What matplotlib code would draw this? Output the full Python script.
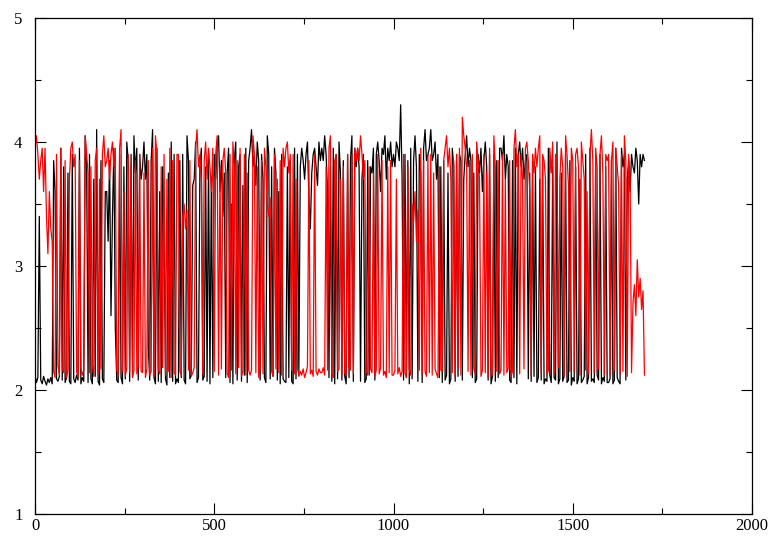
import matplotlib
matplotlib.use("Agg")
import numpy as np
import matplotlib.pyplot as plt
from matplotlib.ticker import MultipleLocator

# frame step between stored samples
step = 4

black_vals = [
    2.12, 2.06, 2.10, 3.40, 2.08, 2.05, 2.11, 2.07, 2.04, 2.09, 2.06, 2.10, 2.05, 3.85, 3.60, 2.09, 2.07, 2.11, 3.95, 2.08, 3.80, 2.06, 2.10, 3.75, 2.07,
    2.05, 3.90, 2.09, 2.06, 2.12, 2.08, 3.95, 2.05, 2.10, 2.07, 4.05, 3.80, 2.06, 3.90, 2.09, 2.05, 3.70, 2.11, 4.10, 2.07, 2.04, 3.85, 2.09, 2.06, 3.60,
    3.60, 3.20, 3.85, 2.60, 3.40, 3.95, 2.50, 2.08, 2.06, 3.90, 2.10, 2.05, 3.80, 2.09, 4.00, 3.85, 2.07, 3.90, 2.11, 4.05, 3.75, 3.95, 2.08, 3.90, 3.70,
    3.80, 4.00, 3.70, 3.90, 2.35, 2.08, 3.85, 4.10, 2.10, 2.05, 3.95, 2.07, 3.60, 2.06, 3.80, 3.30, 2.09, 2.04, 3.75, 2.10, 4.00, 2.07, 3.90, 2.05, 2.09,
    2.06, 3.85, 2.10, 3.90, 2.08, 2.05, 4.05, 3.85, 2.09, 2.12, 3.65, 3.70, 4.00, 2.06, 2.10, 3.80, 3.95, 2.08, 2.11, 3.80, 2.07, 3.90, 2.05, 3.70, 2.10,
    3.90, 3.70, 3.95, 4.05, 3.60, 3.85, 3.40, 3.75, 2.10, 3.75, 3.95, 2.06, 3.50, 2.05, 3.85, 4.00, 2.08, 3.80, 3.90, 2.07, 3.65, 2.12, 3.95, 2.06, 3.85,
    3.95, 4.10, 3.80, 3.90, 3.65, 4.00, 3.85, 2.08, 3.90, 3.70, 2.10, 2.06, 4.05, 3.90, 2.09, 3.80, 2.11, 3.95, 3.75, 2.08, 3.60, 2.05, 3.90, 2.09, 2.07,
    2.06, 3.80, 2.10, 3.85, 2.07, 2.05, 3.95, 2.09, 3.90, 2.12, 3.80, 3.95, 3.85, 3.70, 3.90, 4.00, 3.55, 3.30, 3.75, 3.90, 3.95, 3.80, 3.65, 4.00, 3.85,
    3.95, 3.85, 4.05, 3.90, 3.60, 2.10, 3.80, 2.07, 3.95, 2.05, 3.90, 2.09, 4.00, 3.75, 2.08, 3.85, 2.11, 2.05, 3.90, 2.10, 3.85, 4.05, 2.07, 3.95, 3.80,
    3.95, 3.80, 2.07, 3.70, 3.90, 2.06, 2.09, 3.85, 2.12, 3.80, 3.75, 3.95, 2.08, 3.90, 4.00, 3.85, 3.60, 3.95, 3.90, 4.05, 3.70, 3.95, 3.85, 4.00, 3.80,
    3.90, 3.80, 4.00, 3.95, 3.85, 4.30, 3.70, 2.08, 3.90, 2.10, 3.85, 2.05, 3.95, 2.09, 3.85, 4.05, 3.80, 2.07, 3.90, 3.75, 2.06, 3.95, 4.10, 3.85, 3.90,
    3.95, 4.10, 3.85, 3.90, 4.00, 3.70, 3.90, 2.10, 3.80, 2.06, 3.85, 2.08, 2.12, 3.75, 2.05, 2.09, 3.95, 3.80, 2.07, 3.90, 2.11, 3.90, 3.85, 2.08, 3.70,
    3.90, 4.05, 3.80, 3.95, 3.85, 2.10, 3.75, 2.06, 2.09, 3.90, 3.75, 3.95, 3.60, 3.85, 4.00, 3.80, 2.08, 3.90, 2.05, 2.11, 3.90, 2.07, 3.85, 2.10, 3.95,
    3.95, 3.85, 4.05, 3.70, 3.90, 3.80, 2.08, 2.06, 3.85, 2.10, 3.95, 2.05, 3.90, 4.00, 3.80, 3.95, 3.70, 3.85, 3.90, 2.09, 3.75, 2.07, 3.90, 2.11, 3.80,
    2.06, 2.10, 3.70, 2.08, 3.85, 2.05, 2.09, 2.07, 3.95, 2.12, 2.06, 3.80, 2.10, 2.08, 4.00, 2.05, 2.09, 3.75, 2.07, 2.11, 3.90, 2.06, 2.08, 3.85, 2.04,
    2.10, 2.07, 3.80, 2.05, 2.09, 3.70, 2.06, 2.08, 2.11, 3.90, 2.05, 2.10, 3.95, 2.07, 2.09, 2.06, 3.85, 2.12, 2.08, 3.90, 2.05, 2.10, 2.07, 3.80, 2.06,
    2.06, 2.09, 3.85, 2.05, 2.08, 3.95, 2.10, 2.07, 2.05, 3.95, 3.80, 3.90, 2.08, 3.70, 3.85, 3.60, 3.90, 3.80, 3.75, 3.95, 3.85, 3.50, 3.90, 3.80, 3.90,
    3.85,
]

red_vals = [
    3.95, 4.05, 3.90, 3.70, 3.85, 3.95, 3.60, 3.95, 3.40, 3.10, 3.60, 3.30, 3.20, 2.15, 2.10, 3.90, 2.20, 2.12, 3.95, 2.18, 2.14, 3.85, 2.10, 2.16, 3.70,
    3.95, 4.00, 3.80, 3.90, 2.15, 2.10, 3.85, 2.18, 2.12, 2.16, 4.05, 3.90, 3.75, 2.14, 3.80, 2.20, 2.11, 3.85, 3.95, 2.13, 3.70, 2.17, 3.90, 4.05, 3.80,
    3.85, 3.95, 3.70, 3.90, 4.00, 3.80, 3.95, 2.16, 2.12, 3.95, 4.10, 2.15, 3.60, 2.11, 2.18, 3.90, 2.14, 3.80, 2.10, 2.16, 3.85, 2.13, 2.19, 3.90, 2.15,
    2.14, 3.75, 2.10, 2.17, 3.85, 2.12, 2.15, 3.95, 2.11, 4.05, 3.90, 2.16, 2.13, 3.80, 2.18, 3.90, 2.12, 3.70, 2.15, 3.95, 2.10, 3.85, 2.14, 2.12, 3.90,
    3.90, 2.15, 2.12, 3.40, 3.50, 3.30, 3.45, 2.16, 3.85, 2.11, 2.14, 2.18, 3.95, 4.10, 3.80, 3.90, 3.70, 2.13, 3.85, 4.00, 3.70, 3.95, 3.80, 3.60, 3.95,
    2.15, 3.90, 4.05, 2.12, 3.80, 2.17, 3.85, 3.95, 3.75, 2.14, 2.10, 3.90, 2.16, 4.00, 3.80, 2.13, 3.85, 2.18, 3.95, 2.11, 2.15, 3.90, 2.12, 3.75, 2.16,
    2.12, 2.16, 4.05, 3.90, 2.14, 3.80, 2.10, 2.18, 3.85, 2.13, 3.95, 3.80, 3.50, 3.40, 3.55, 2.15, 2.11, 3.90, 2.17, 3.70, 2.14, 3.85, 2.12, 3.95, 3.80,
    3.95, 4.00, 3.75, 3.90, 2.16, 3.90, 2.13, 3.70, 2.18, 2.11, 2.15, 2.12, 2.17, 2.10, 2.14, 2.19, 3.85, 2.13, 2.16, 2.11, 3.90, 2.15, 2.12, 2.17, 2.14,
    2.14, 2.18, 2.12, 3.80, 2.16, 3.95, 4.05, 2.13, 2.10, 3.85, 3.90, 2.15, 2.17, 3.70, 2.11, 3.80, 2.14, 2.12, 3.90, 2.18, 2.16, 3.90, 2.13, 3.95, 3.85,
    3.95, 3.85, 4.05, 3.90, 3.70, 3.85, 2.15, 2.12, 3.80, 2.17, 2.14, 3.75, 2.11, 2.16, 3.90, 2.13, 2.18, 3.85, 2.12, 2.15, 2.10, 3.80, 2.14, 3.85, 2.12,
    2.12, 2.16, 3.70, 2.13, 2.18, 2.11, 2.15, 3.90, 2.14, 2.10, 3.80, 2.17, 2.12, 3.50, 3.35, 3.60, 3.20, 3.45, 2.16, 3.95, 2.13, 3.85, 2.15, 2.11, 3.90,
    2.14, 3.90, 2.12, 3.75, 2.17, 2.13, 2.10, 3.80, 2.16, 2.15, 3.85, 3.95, 4.05, 3.80, 3.95, 3.70, 2.14, 3.85, 2.11, 3.90, 2.18, 3.95, 2.12, 4.20, 4.05,
    3.95, 3.80, 2.15, 3.85, 2.12, 3.90, 2.17, 2.13, 4.00, 3.85, 3.70, 2.11, 2.16, 3.90, 2.14, 3.75, 2.10, 3.95, 2.18, 2.12, 4.05, 3.80, 2.15, 3.85, 2.13,
    2.16, 3.90, 2.12, 3.70, 2.14, 2.18, 3.85, 2.11, 2.15, 3.95, 4.10, 3.80, 3.90, 2.13, 3.90, 3.70, 2.17, 3.95, 4.00, 3.85, 3.60, 2.12, 3.90, 3.75, 3.95,
    3.80, 3.95, 4.05, 2.14, 3.90, 3.85, 3.70, 2.12, 2.16, 3.95, 3.75, 4.00, 2.13, 3.90, 3.85, 2.18, 3.70, 3.95, 3.80, 2.11, 4.05, 3.90, 3.65, 2.15, 3.95,
    3.85, 2.15, 3.90, 3.95, 3.80, 2.12, 4.00, 3.85, 3.70, 2.16, 3.60, 2.13, 3.90, 4.10, 3.85, 2.14, 3.95, 3.80, 2.17, 3.90, 4.05, 3.75, 2.12, 3.90, 3.85,
    3.90, 2.12, 3.85, 4.00, 2.16, 3.95, 3.80, 3.65, 2.13, 3.90, 2.15, 4.05, 3.85, 2.11, 3.90, 3.70, 2.14, 2.70, 2.85, 2.60, 3.05, 2.75, 2.90, 2.65, 2.80,
    2.12,
]

x_ticks = [0, 500, 1000, 1500, 2000]
y_ticks = [1, 2, 3, 4, 5]

frames_black = np.arange(len(black_vals)) * step
frames_red = np.arange(len(red_vals)) * step

fig = plt.figure(figsize=(7.71, 5.40), dpi=100)
ax = fig.add_axes([35 / 771, 26 / 540, 717 / 771, 496 / 540])

ax.plot(frames_black, black_vals, color="black", linewidth=0.9)
ax.plot(frames_red, red_vals, color="#ff0000", linewidth=0.9)

ax.set_xlim(0, 2000)
ax.set_ylim(1, 5)
ax.set_xticks(x_ticks)
ax.set_yticks(y_ticks)
ax.xaxis.set_minor_locator(MultipleLocator(250))
ax.yaxis.set_minor_locator(MultipleLocator(0.5))

ax.tick_params(which="both", direction="in", top=True, right=True, width=0.8)
ax.tick_params(which="major", length=8)
ax.tick_params(which="minor", length=4)
ax.tick_params(axis="x", pad=3)
ax.tick_params(axis="y", pad=9)
for lab in ax.get_xticklabels() + ax.get_yticklabels():
    lab.set_family("Liberation Serif")
    lab.set_fontsize(12)
for sp in ax.spines.values():
    sp.set_linewidth(0.9)

fig.savefig("out.png", dpi=100)
